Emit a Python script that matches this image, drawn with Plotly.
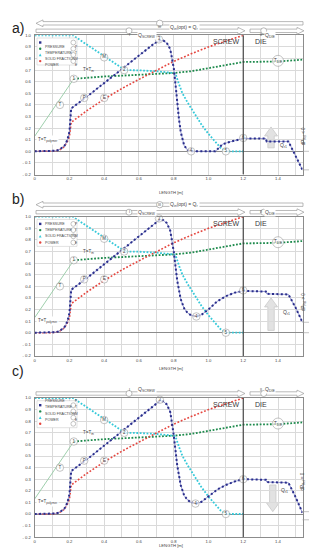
import plotly.graph_objects as go

# ------------------------------------------------------------------ data
LENGTH_TICKS = [0, 0.2, 0.4, 0.6, 0.8, 1.0, 1.2, 1.4]
LENGTH_TICK_TEXT = ["0", "0.2", "0.4", "0.6", "0.8", "1.0", "1.2", "1.4"]
Y_TICKS = [1.0, 0.9, 0.8, 0.7, 0.6, 0.5, 0.4, 0.3, 0.2, 0.1, 0.0, -0.1, -0.2]
Y_TICK_TEXT = ["1.0", "0.9", "0.8", "0.7", "0.6", "0.5", "0.4", "0.3", "0.2", "0.1", "0.0", "- 0.1", "- 0.2"]

# pressure, panel a
pa_x = [0, 0.10, 0.12, 0.14, 0.16, 0.17, 0.18, 0.19, 0.20, 0.205, 0.21, 0.30, 0.40, 0.50, 0.60, 0.65, 0.68,
        0.70, 0.72, 0.74, 0.76, 0.78, 0.80, 0.81, 0.82, 0.83, 0.84, 0.85, 0.86, 0.88, 0.90, 1.04, 1.06, 1.08,
        1.12, 1.16, 1.20, 1.33, 1.335, 1.46, 1.50, 1.541]
pa_y = [0, 0, 0.005, 0.012, 0.03, 0.045, 0.07, 0.11, 0.17, 0.27, 0.37, 0.47, 0.59, 0.71, 0.83, 0.885, 0.92,
        0.94, 0.955, 0.955, 0.935, 0.88, 0.72, 0.58, 0.42, 0.28, 0.17, 0.10, 0.05, 0.01, 0.0, 0.0, 0.03, 0.06,
        0.08, 0.095, 0.11, 0.11, 0.085, 0.085, -0.03, -0.16]

# pressure, panel b
pb_x = [0, 0.10, 0.12, 0.14, 0.16, 0.17, 0.18, 0.19, 0.20, 0.205, 0.21, 0.30, 0.40, 0.50, 0.60, 0.65, 0.68,
        0.70, 0.72, 0.74, 0.76, 0.78, 0.80, 0.82, 0.84, 0.86, 0.88, 0.90, 0.93, 0.96, 1.00, 1.05, 1.10, 1.15,
        1.20, 1.33, 1.335, 1.46, 1.50, 1.541]
pb_y = [0, 0, 0.005, 0.012, 0.03, 0.045, 0.07, 0.11, 0.17, 0.27, 0.37, 0.47, 0.59, 0.71, 0.83, 0.89, 0.93,
        0.955, 0.975, 0.97, 0.945, 0.88, 0.70, 0.45, 0.29, 0.21, 0.17, 0.15, 0.14, 0.155, 0.20, 0.27, 0.315,
        0.345, 0.36, 0.355, 0.335, 0.33, 0.22, 0.09]

# pressure, panel c
pc_x = [0, 0.10, 0.12, 0.14, 0.16, 0.17, 0.18, 0.19, 0.20, 0.205, 0.21, 0.30, 0.40, 0.50, 0.60, 0.65, 0.68,
        0.70, 0.72, 0.74, 0.76, 0.78, 0.80, 0.82, 0.84, 0.86, 0.88, 0.90, 0.93, 0.96, 1.00, 1.05, 1.10, 1.15,
        1.20, 1.33, 1.335, 1.46, 1.50, 1.541]
pc_y = [0, 0, 0.005, 0.012, 0.03, 0.045, 0.07, 0.11, 0.17, 0.27, 0.37, 0.47, 0.59, 0.71, 0.83, 0.89, 0.93,
        0.955, 0.975, 0.97, 0.945, 0.88, 0.68, 0.42, 0.25, 0.16, 0.12, 0.10, 0.09, 0.105, 0.15, 0.21, 0.25,
        0.28, 0.30, 0.295, 0.275, 0.27, 0.15, 0.01]

# temperature (same in all panels)
t_poly_x = [0, 0.225]
t_poly_y = [0.13, 0.625]
t_x = [0.225, 0.30, 0.40, 0.50, 0.60, 0.70, 0.80, 0.90, 1.00, 1.10, 1.20, 1.30, 1.40, 1.50, 1.541]
t_y = [0.625, 0.635, 0.645, 0.652, 0.66, 0.667, 0.675, 0.69, 0.715, 0.745, 0.77, 0.772, 0.775, 0.785, 0.79]

# solid fraction
m_x = [0, 0.22, 0.30, 0.40, 0.52, 0.60, 0.70, 0.80, 0.81, 0.83, 0.85, 0.88, 0.90, 0.93, 0.96, 1.00, 1.04,
       1.07, 1.10, 1.20]
m_y = [1.0, 1.0, 0.92, 0.82, 0.70, 0.698, 0.69, 0.675, 0.67, 0.58, 0.50, 0.42, 0.37, 0.30, 0.23, 0.15, 0.08,
       0.03, 0.0, 0.0]

# power
e_x = [0, 0.10, 0.14, 0.17, 0.19, 0.20, 0.21, 0.30, 0.40, 0.50, 0.60, 0.70, 0.80, 0.90, 1.00, 1.10, 1.20]
e_y = [0, 0, 0.01, 0.04, 0.09, 0.13, 0.25, 0.35, 0.45, 0.54, 0.62, 0.70, 0.775, 0.84, 0.90, 0.95, 1.0]

PRESSURES = [(pa_x, pa_y), (pb_x, pb_y), (pc_x, pc_y)]

# ------------------------------------------------------------------ styles / geometry
W, H = 317, 550
FONT = "Arial, Liberation Sans, sans-serif"
NAVY = "#2a2e8c"
NAVY_LINE = "#7d84c8"
GREEN = "#1d8a4c"
GREEN_LIGHT = "#93c9a3"
CYAN = "#35c9d9"
RED = "#e5463f"
GRID = "#dadada"
TXT = "#444444"

X0PX, X1PX = 26.7, 294.5
XMAX = 1.541
TOP_PX, BOT_PX = 27.3, 166.5
OFFS = [0.0, 181.4, 362.7]


def fx(x):
    return x / W


def fy(y):
    return 1 - y / H


def d2px(xv, yv, k):
    return (X0PX + xv / XMAX * (X1PX - X0PX),
            OFFS[k] + TOP_PX + (1.0 - yv) / 1.2 * (BOT_PX - TOP_PX))


def poly_path(pts_px):
    s = "M " + " L ".join(f"{fx(x):.5f},{fy(y):.5f}" for x, y in pts_px) + " Z"
    return s


def hollow_arrow(x0, x1, yc, left_head, right_head, h=1.7, Hh=3.4, L=7.0):
    pts = []
    if left_head:
        pts += [(x0, yc), (x0 + L, yc - Hh), (x0 + L, yc - h)]
    else:
        pts += [(x0, yc - h)]
    if right_head:
        pts += [(x1 - L, yc - h), (x1 - L, yc - Hh), (x1, yc), (x1 - L, yc + Hh), (x1 - L, yc + h)]
    else:
        pts += [(x1, yc - h), (x1, yc + h)]
    if left_head:
        pts += [(x0 + L, yc + h), (x0 + L, yc + Hh)]
    else:
        pts += [(x0, yc + h)]
    return dict(type="path", xref="paper", yref="paper", path=poly_path(pts),
                line=dict(color="#9c9c9c", width=0.7), fillcolor="white", layer="above")


def block_arrow(xc, yb, yt, k, sw=3.2, hw=6.5, hl=9.0):
    xcp, ybp = d2px(xc, yb, k)
    _, ytp = d2px(xc, yt, k)
    d = -1 if ytp < ybp else 1
    neck = ytp - d * hl
    pts = [(xcp - sw, ybp), (xcp - sw, neck), (xcp - hw, neck), (xcp, ytp), (xcp + hw, neck),
           (xcp + sw, neck), (xcp + sw, ybp)]
    return dict(type="path", xref="paper", yref="paper", path=poly_path(pts),
                line=dict(color="#c9c9c9", width=0.8), fillcolor="#e2e2e2", layer="below")


def circle_px(cx, cy, r, lw=0.6, color="#8a8a8a"):
    return dict(type="circle", xref="paper", yref="paper", x0=fx(cx - r), x1=fx(cx + r),
                y0=fy(cy + r), y1=fy(cy - r), line=dict(color=color, width=lw), fillcolor="white",
                layer="above")


fig = go.Figure()
shapes = []
annotations = []

LABELS = [
    [("1", 0.225, 0.625), ("2", 0.515, 0.70), ("3", 0.715, 0.965), ("4", 0.90, 0.0), ("5", 1.10, 0.0),
     ("6", 1.20, 0.115), ("P", 0.285, 0.46), ("E", 0.40, 0.46), ("M", 0.40, 0.81), ("T", 0.145, 0.40)],
    [("1", 0.225, 0.625), ("2", 0.515, 0.70), ("3", 0.715, 0.985), ("4", 0.93, 0.14), ("5", 1.10, 0.0),
     ("6", 1.20, 0.365), ("P", 0.285, 0.46), ("E", 0.40, 0.46), ("M", 0.40, 0.81), ("T", 0.145, 0.40)],
    [("1", 0.225, 0.625), ("2", 0.515, 0.70), ("3", 0.72, 0.985), ("4", 0.925, 0.09), ("5", 1.10, 0.0),
     ("6", 1.20, 0.30), ("P", 0.285, 0.46), ("E", 0.40, 0.46), ("M", 0.40, 0.81), ("T", 0.145, 0.40)],
]
QR_ARROWS = [(1.36, 0.03, 0.21), (1.36, 0.02, 0.30), (1.37, 0.25, 0.02)]
QR_LABEL = [(1.43, 0.05), (1.45, 0.17), (1.44, 0.20)]
BRACKETS = [(0.0, -0.16, 0.22, "dP<sub>Rel</sub> < 0", "|dP<sub>Rel</sub>| > δp"),
            (0.09, 0.0, 0.26, "dP<sub>Rel</sub> > 0", "|dP<sub>Rel</sub>| > δp"),
            (0.02, -0.05, 0.18, "dP<sub>Rel</sub> = 0", "|dP<sub>Rel</sub>| ≤ δp")]

layout_axes = {}
for k in range(3):
    sfx = "" if k == 0 else str(k + 1)
    xa, ya = "x" + sfx, "y" + sfx
    top = OFFS[k] + TOP_PX
    bot = OFFS[k] + BOT_PX
    layout_axes["xaxis" + sfx] = dict(
        domain=[fx(X0PX), fx(X1PX)], range=[0, XMAX], anchor=ya, tickmode="array",
        tickvals=LENGTH_TICKS, ticktext=LENGTH_TICK_TEXT, showgrid=True, gridcolor=GRID, gridwidth=0.6,
        minor=dict(tickmode="linear", tick0=0.1, dtick=0.2, showgrid=True, gridcolor=GRID, gridwidth=0.6,
                   ticks=""),
        zeroline=False, showline=True, linecolor="#8c8c8c", linewidth=0.8, mirror=True, ticks="",
        automargin=False, tickfont=dict(size=4.2, color=TXT, family=FONT), ticklabelstandoff=0)
    layout_axes["yaxis" + sfx] = dict(
        domain=[fy(bot), fy(top)], range=[-0.2, 1.0], anchor=xa, tickmode="array", tickvals=Y_TICKS,
        ticktext=Y_TICK_TEXT, showgrid=True, gridcolor=GRID, gridwidth=0.6, zeroline=True,
        zerolinecolor="#8c8c8c", zerolinewidth=0.8, showline=True, linecolor="#8c8c8c", linewidth=0.8,
        mirror=True, ticks="", automargin=False, tickfont=dict(size=4.2, color=TXT, family=FONT),
        ticklabelstandoff=2)

    px_, py_ = PRESSURES[k]
    fig.add_trace(go.Scatter(x=t_poly_x, y=t_poly_y, xaxis=xa, yaxis=ya, mode="lines",
                             line=dict(color=GREEN_LIGHT, width=0.9), showlegend=False, hoverinfo="skip"))
    fig.add_trace(go.Scatter(x=t_x, y=t_y, xaxis=xa, yaxis=ya, mode="lines",
                             line=dict(color=GREEN, width=1.8, dash="1.8px,1.6px"), showlegend=False))
    fig.add_trace(go.Scatter(x=m_x, y=m_y, xaxis=xa, yaxis=ya, mode="lines",
                             line=dict(color=CYAN, width=1.8, dash="1.8px,1.6px"), showlegend=False))
    fig.add_trace(go.Scatter(x=e_x, y=e_y, xaxis=xa, yaxis=ya, mode="lines",
                             line=dict(color=RED, width=1.6, dash="1.8px,1.8px"), showlegend=False))
    fig.add_trace(go.Scatter(x=px_, y=py_, xaxis=xa, yaxis=ya, mode="lines",
                             line=dict(color=NAVY_LINE, width=0.8), showlegend=False))
    fig.add_trace(go.Scatter(x=px_, y=py_, xaxis=xa, yaxis=ya, mode="lines",
                             line=dict(color=NAVY, width=2.0, dash="2px,2.4px"), showlegend=False))

    labs = LABELS[k]
    fig.add_trace(go.Scatter(x=[l[1] for l in labs] + [1.40], y=[l[2] for l in labs] + [0.78],
                             text=[l[0] for l in labs] + ["T<sub>DIE</sub>"], xaxis=xa, yaxis=ya,
                             mode="markers+text", textposition="middle center",
                             marker=dict(size=[7.5] * len(labs) + [11], color="white",
                                         line=dict(color="#8a8a8a", width=0.7)),
                             textfont=dict(size=4.5, color=TXT, family=FONT), cliponaxis=False,
                             showlegend=False))

    shapes.append(dict(type="line", xref=xa, yref=ya, x0=1.2, x1=1.2, y0=-0.2, y1=1.0,
                       line=dict(color="#3c3c3c", width=1.1), layer="above"))
    xc, yb, yt = QR_ARROWS[k]
    shapes.append(block_arrow(xc, yb, yt, k))
    annotations.append(dict(x=QR_LABEL[k][0], y=QR_LABEL[k][1], xref=xa, yref=ya,
                            text="Q<sub>r1</sub>", showarrow=False,
                            font=dict(size=5, color=TXT, family=FONT)))
    annotations.append(dict(x=1.10, y=0.945, xref=xa, yref=ya, text="SCREW", showarrow=False,
                            font=dict(size=7, color="#3a3a3a", family=FONT)))
    annotations.append(dict(x=1.30, y=0.945, xref=xa, yref=ya, text="DIE", showarrow=False,
                            font=dict(size=7, color="#3a3a3a", family=FONT)))
    annotations.append(dict(x=0.31, y=0.70, xref=xa, yref=ya, text="T=T<sub>m</sub>", showarrow=False,
                            font=dict(size=4.5, color=TXT, family=FONT)))
    annotations.append(dict(x=0.075, y=0.10, xref=xa, yref=ya, text="T=T<sub>polymer</sub>",
                            showarrow=False, bgcolor="white", borderpad=1,
                            font=dict(size=4.5, color=TXT, family=FONT)))

    annotations.append(dict(x=fx(2), y=fy(OFFS[k] + 10), xref="paper", yref="paper",
                            text="abc"[k] + ")", showarrow=False, xanchor="left",
                            font=dict(size=14, color="#222", family=FONT)))
    annotations.append(dict(x=fx(163), y=fy(OFFS[k] + 179.5), xref="paper", yref="paper",
                            text="LENGTH [m]", showarrow=False,
                            font=dict(size=4.2, color=TXT, family=FONT)))

    if k < 2:
        yc1 = OFFS[k] + 15.3
        shapes.append(hollow_arrow(28, 295, yc1, True, False))
        shapes.append(circle_px(151.7, yc1, 3.2))
        annotations.append(dict(x=fx(151.7), y=fy(yc1), xref="paper", yref="paper", text="III",
                                showarrow=False, font=dict(size=3.6, color=TXT, family=FONT)))
        annotations.append(dict(x=fx(176), y=fy(yc1), xref="paper", yref="paper",
                                text="Q<sub>in</sub>(opt) = Q<sub>r</sub>", showarrow=False,
                                bgcolor="white", borderpad=0,
                                font=dict(size=5, color=TXT, family=FONT)))
    yc2 = OFFS[k] + 22.8
    shapes.append(hollow_arrow(28, 237, yc2, False, True))
    shapes.append(hollow_arrow(242, 296, yc2, False, True))
    shapes.append(circle_px(121, yc2, 3.0))
    shapes.append(circle_px(255.7, yc2, 3.0))
    annotations.append(dict(x=fx(121), y=fy(yc2), xref="paper", yref="paper", text="I",
                            showarrow=False, font=dict(size=3.6, color=TXT, family=FONT)))
    annotations.append(dict(x=fx(255.7), y=fy(yc2), xref="paper", yref="paper", text="II",
                            showarrow=False, font=dict(size=3.6, color=TXT, family=FONT)))
    annotations.append(dict(x=fx(139), y=fy(yc2), xref="paper", yref="paper",
                            text="Q<sub>SCREW</sub>", showarrow=False, bgcolor="white", borderpad=0,
                            font=dict(size=5, color=TXT, family=FONT)))
    annotations.append(dict(x=fx(267.5), y=fy(yc2), xref="paper", yref="paper",
                            text="Q<sub>DIE</sub>", showarrow=False, bgcolor="white", borderpad=0,
                            font=dict(size=5, color=TXT, family=FONT)))

    lb = OFFS[k]
    shapes.append(dict(type="rect", xref="paper", yref="paper", x0=fx(29), x1=fx(69),
                       y0=fy(lb + 57), y1=fy(lb + 30), line=dict(color="#c4c4c4", width=0.5),
                       fillcolor="white", layer="above"))
    items = [("PRESSURE", "sq", NAVY, "P"), ("TEMPERATURE", "ci", GREEN, "T"),
             ("SOLID FRACTION", "tr", CYAN, "M"), ("POWER", "ci", RED, "E")]
    for i, (name, sym, col, let) in enumerate(items):
        yy = lb + 34.5 + 6.2 * i
        if sym == "sq":
            shapes.append(dict(type="rect", xref="paper", yref="paper", x0=fx(31), x1=fx(33.4),
                               y0=fy(yy + 1.2), y1=fy(yy - 1.2), line=dict(width=0), fillcolor=col,
                               layer="above"))
        elif sym == "ci":
            shapes.append(dict(type="circle", xref="paper", yref="paper", x0=fx(31), x1=fx(33.4),
                               y0=fy(yy + 1.2), y1=fy(yy - 1.2), line=dict(width=0), fillcolor=col,
                               layer="above"))
        else:
            shapes.append(dict(type="path", xref="paper", yref="paper",
                               path=poly_path([(30.8, yy + 1.3), (33.6, yy + 1.3), (32.2, yy - 1.4)]),
                               line=dict(width=0), fillcolor=col, layer="above"))
        annotations.append(dict(x=fx(34.5), y=fy(yy), xref="paper", yref="paper", text=name,
                                showarrow=False, xanchor="left",
                                font=dict(size=3.6, color=TXT, family=FONT)))
        shapes.append(circle_px(65.3, yy, 2.4, lw=0.5))
        annotations.append(dict(x=fx(65.3), y=fy(yy), xref="paper", yref="paper", text=let,
                                showarrow=False, font=dict(size=3.2, color=TXT, family=FONT)))

    ytop, ybot, ytext, t1, t2 = BRACKETS[k]
    _, ptop = d2px(0, ytop, k)
    _, pbot = d2px(0, ybot, k)
    _, ptxt = d2px(0, ytext, k)
    for yy in (ptop, pbot):
        shapes.append(dict(type="line", xref="paper", yref="paper", x0=fx(X1PX), x1=fx(310),
                           y0=fy(yy), y1=fy(yy), line=dict(color="#9a9a9a", width=0.6)))
    shapes.append(dict(type="line", xref="paper", yref="paper", x0=fx(305.7), x1=fx(305.7),
                       y0=fy(ptop), y1=fy(pbot), line=dict(color="#333", width=0.8)))
    shapes.append(dict(type="path", xref="paper", yref="paper",
                       path=poly_path([(305.7, ptop), (304.4, ptop + 2.2), (307.0, ptop + 2.2)]),
                       line=dict(width=0), fillcolor="#333"))
    shapes.append(dict(type="path", xref="paper", yref="paper",
                       path=poly_path([(305.7, pbot), (304.4, pbot - 2.2), (307.0, pbot - 2.2)]),
                       line=dict(width=0), fillcolor="#333"))
    annotations.append(dict(x=fx(300.5), y=fy(ptxt), xref="paper", yref="paper", text=t1,
                            showarrow=False, textangle=-90, font=dict(size=4.5, color=TXT, family=FONT)))
    annotations.append(dict(x=fx(311.5), y=fy(ptxt), xref="paper", yref="paper", text=t2,
                            showarrow=False, textangle=-90, font=dict(size=4.5, color=TXT, family=FONT)))

fig.update_layout(
    width=W, height=H, margin=dict(l=0, r=0, t=0, b=0),
    paper_bgcolor="white", plot_bgcolor="white", showlegend=False,
    font=dict(family=FONT, color=TXT),
    shapes=shapes, annotations=annotations, **layout_axes)

fig.write_html("out.html")
